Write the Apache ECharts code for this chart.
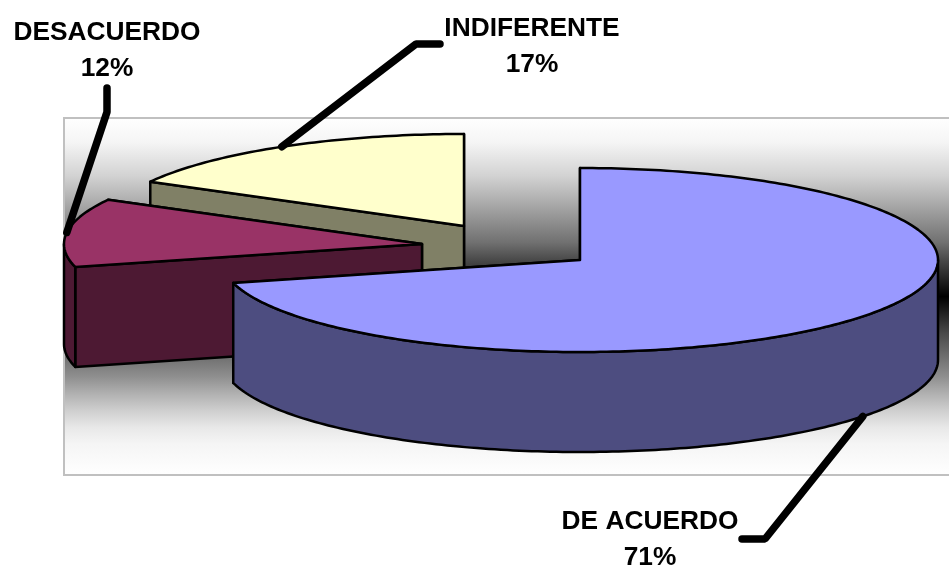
<!DOCTYPE html>
<html>
<head>
<meta charset="utf-8">
<style>html,body{margin:0;padding:0;background:#fff}#c{width:949px;height:568px}</style>
<script src="https://cdn.jsdelivr.net/npm/echarts@6/dist/echarts.min.js"></script>
</head>
<body>
<div id="c"></div>
<script>
// Data
var categories = ['DE ACUERDO', 'DESACUERDO', 'INDIFERENTE'];
var percents = [71, 12, 17];
var topColors = ['#9999FF', '#993366', '#FFFFCC'];
var sideColors = ['#4D4D80', '#4D1933', '#808066'];

// Layout of the drawing
var sliceCenters = [[580, 260], [422, 244], [464, 226]];
var radiusX = 358, radiusY = 92, depth = 100;
var labelCenters = [[650, 522], [107, 33], [532, 29]];
var labelLineGap = 35.5;
var leaderElbows = [[[765, 539], [742, 539]], [[107, 112], [107, 88]], [[416, 44], [440, 44]]];
var fontStyle = 'bold 26.3px "Liberation Sans", Arial, sans-serif';

var total = percents.reduce(function (a, b) { return a + b; }, 0);
var startAngles = [];
percents.reduce(function (acc, v, i) { startAngles[i] = acc; return acc + v / total * 360; }, 0);

function rimPoint(c, deg, dy) {
  var r = deg * Math.PI / 180;
  return [c[0] + radiusX * Math.sin(r), c[1] - radiusY * Math.cos(r) + (dy || 0)];
}
function arcPoints(c, a0, a1, dy) {
  var pts = [], n = Math.max(2, Math.ceil(Math.abs(a1 - a0)));
  for (var i = 0; i <= n; i++) pts.push(rimPoint(c, a0 + (a1 - a0) * i / n, dy));
  return pts;
}
function poly(points, fill, z2) {
  return {
    type: 'polygon', z2: z2,
    shape: { points: points },
    style: { fill: fill, stroke: '#000', lineWidth: 2.5, lineJoin: 'round' }
  };
}

function renderSlice(params) {
  var i = params.dataIndex, c = sliceCenters[i];
  var a0 = startAngles[i], a1 = a0 + percents[i] / total * 360;
  var base = (percents.length - i) * 10;
  var kids = [];
  // cut faces, farther edge first
  [a0, a1].map(function (a) { return { a: a, p: rimPoint(c, a) }; })
    .sort(function (m, n) { return m.p[1] - n.p[1]; })
    .forEach(function (f, k) {
      kids.push(poly([c, f.p, [f.p[0], f.p[1] + depth], [c[0], c[1] + depth]], sideColors[i], base + k));
    });
  // visible outer wall
  var w0 = Math.max(a0, 90), w1 = Math.min(a1, 270);
  if (w1 > w0) {
    kids.push(poly(arcPoints(c, w0, w1, 0).concat(arcPoints(c, w1, w0, depth)), sideColors[i], base + 3));
  }
  // top
  kids.push(poly([c].concat(arcPoints(c, a0, a1, 0)), topColors[i], base + 4));
  // leader line
  var mid = (a0 + a1) / 2;
  var isFront = Math.cos(mid * Math.PI / 180) < 0 && Math.sin(mid * Math.PI / 180) > 0;
  var start = rimPoint(c, mid, isFront ? depth : 0);
  kids.push({
    type: 'polyline', z2: 100,
    shape: { points: [start].concat(leaderElbows[i]) },
    style: { fill: 'none', stroke: '#000', lineWidth: 7.5, lineCap: 'round', lineJoin: 'bevel' }
  });
  // label
  var lc = labelCenters[i];
  [categories[i], percents[i] + '%'].forEach(function (t, k) {
    kids.push({
      type: 'text', z2: 101,
      style: { text: t, x: lc[0], y: lc[1] + k * labelLineGap, align: 'center', verticalAlign: 'middle', font: fontStyle, fill: '#000' }
    });
  });
  return { type: 'group', children: kids };
}

var chart = echarts.init(document.getElementById('c'), null, { renderer: 'canvas' });
chart.setOption({
  animation: false,
  backgroundColor: '#fff',
  graphic: [{
    type: 'rect', z: -10, silent: true,
    shape: { x: 64, y: 118, width: 900, height: 357 },
    style: {
      stroke: '#C0C0C0', lineWidth: 2,
      fill: new echarts.graphic.LinearGradient(0, 0, 0, 1, [
        { offset: 0, color: '#ffffff' },
        { offset: 0.07, color: '#f5f5f5' },
        { offset: 0.165, color: '#d2d2d2' },
        { offset: 0.26, color: '#a0a0a0' },
        { offset: 0.35, color: '#707070' },
        { offset: 0.4, color: '#484848' },
        { offset: 0.5, color: '#000000' },
        { offset: 0.6, color: '#484848' },
        { offset: 0.725, color: '#909090' },
        { offset: 0.77, color: '#b0b0b0' },
        { offset: 0.82, color: '#d0d0d0' },
        { offset: 0.865, color: '#e8e8e8' },
        { offset: 0.91, color: '#f5f5f5' },
        { offset: 1, color: '#ffffff' }
      ])
    }
  }],
  series: [{
    type: 'custom',
    coordinateSystem: 'none',
    clip: false,
    silent: true,
    z: 2,
    data: percents,
    renderItem: renderSlice
  }]
});
</script>
</body>
</html>
